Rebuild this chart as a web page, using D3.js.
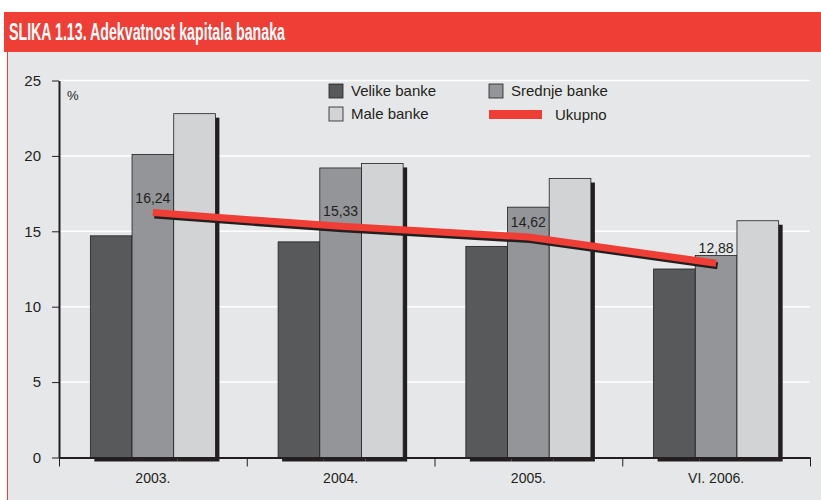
<!DOCTYPE html>
<html>
<head>
<meta charset="utf-8">
<script src="https://cdn.jsdelivr.net/npm/d3@7"></script>
<style>
  body { margin: 0; background: #fff; }
  svg { display: block; font-family: "Liberation Sans", Arial, sans-serif; }
</style>
</head>
<body>
<svg id="chart" width="821" height="500"></svg>
<script>
// Chart data
const categories = ["2003.", "2004.", "2005.", "VI. 2006."];
const seriesNames = ["Velike banke", "Srednje banke", "Male banke"];
const velike = [14.7, 14.3, 14.0, 12.5];
const srednje = [20.1, 19.2, 16.6, 13.4];
const male = [22.8, 19.5, 18.5, 15.7];
const ukupno = [16.24, 15.33, 14.62, 12.88];
const yTicks = [0, 5, 10, 15, 20, 25];

const colors = ["#58595b", "#939598", "#d1d3d4"];
const red = "#ef3e36";
const ink = "#231f20";

const svg = d3.select("#chart");

// Title bar and panel
svg.append("rect").attr("x", 4).attr("y", 12).attr("width", 817).attr("height", 40).attr("fill", red);
svg.append("rect").attr("x", 7).attr("y", 52).attr("width", 814).attr("height", 448).attr("fill", "#e6e7e8");
svg.append("line").attr("x1", 7.5).attr("x2", 7.5).attr("y1", 52).attr("y2", 500)
  .attr("stroke", red).attr("stroke-width", 1);
svg.append("text")
  .attr("x", 9).attr("y", 40)
  .attr("textLength", 276).attr("lengthAdjust", "spacingAndGlyphs")
  .style("font-family", "'Liberation Sans Narrow', 'Liberation Sans', Arial, sans-serif")
  .style("font-weight", "bold").style("font-size", "23px")
  .style("fill", "#fff")
  .text("SLIKA 1.13. Adekvatnost kapitala banaka");

// Scales
const left = 59, right = 810;
const x = d3.scaleBand().domain(categories).range([left, right])
  .paddingInner(0.334).paddingOuter(0.167);
const x1 = d3.scaleBand().domain(seriesNames).range([0, x.bandwidth()]);
const y = d3.scaleLinear().domain([0, 25]).range([457.5, 80.5]);

// Gridlines
svg.append("g")
  .selectAll("line")
  .data(yTicks.slice(1))
  .join("line")
  .attr("x1", left).attr("x2", right)
  .attr("y1", (d) => y(d)).attr("y2", (d) => y(d))
  .attr("stroke", "#fff").attr("stroke-width", 1.5);

// Bars
const values = [velike, srednje, male];
const barData = [];
categories.forEach((c, i) => {
  seriesNames.forEach((s, j) => {
    barData.push({ cat: c, series: s, value: values[j][i], color: colors[j] });
  });
});

// shadows first
svg.append("g")
  .selectAll("rect")
  .data(barData)
  .join("rect")
  .attr("x", (d) => x(d.cat) + x1(d.series) + 4)
  .attr("y", (d) => y(d.value) + 4)
  .attr("width", x1.bandwidth())
  .attr("height", (d) => y(0) - y(d.value))
  .attr("fill", ink);

svg.append("g")
  .selectAll("rect")
  .data(barData)
  .join("rect")
  .attr("x", (d) => x(d.cat) + x1(d.series))
  .attr("y", (d) => y(d.value))
  .attr("width", x1.bandwidth())
  .attr("height", (d) => y(0) - y(d.value))
  .attr("fill", (d) => d.color)
  .attr("stroke", ink).attr("stroke-width", 0.8);

// Axes
const yAxis = svg.append("g")
  .attr("transform", `translate(${left},0)`)
  .call(d3.axisLeft(y).tickValues(yTicks).tickSize(7).tickPadding(11).tickSizeOuter(0));
yAxis.select(".domain").attr("stroke", ink).attr("stroke-width", 2);
yAxis.selectAll(".tick line").attr("stroke", ink);
yAxis.selectAll(".tick text").style("font-size", "15px").style("fill", ink);

const xIdx = d3.scaleLinear().domain([0, categories.length]).range([left, right]);
const xTicks = svg.append("g")
  .attr("transform", `translate(0,${y(0)})`)
  .call(d3.axisBottom(xIdx).ticks(categories.length).tickSize(9).tickFormat("").tickSizeOuter(0));
xTicks.select(".domain").attr("stroke", ink).attr("stroke-width", 2);
xTicks.selectAll(".tick line").attr("stroke", ink);

const xAxis = svg.append("g")
  .attr("transform", `translate(0,${y(0)})`)
  .call(d3.axisBottom(x).tickSize(0).tickPadding(16));
xAxis.select(".domain").remove();
xAxis.selectAll(".tick text").style("font-size", "14px").style("fill", ink);

svg.append("text").attr("x", 67).attr("y", 100)
  .style("font-size", "13px").style("fill", ink).text("%");

// Ukupno line
const line = d3.line()
  .x((d, i) => x(categories[i]) + x.bandwidth() / 2)
  .y((d) => y(d));

svg.append("path").datum(ukupno)
  .attr("d", line)
  .attr("transform", "translate(1.5,2.5)")
  .attr("fill", "none").attr("stroke", ink).attr("stroke-width", 7);
svg.append("path").datum(ukupno)
  .attr("d", line)
  .attr("fill", "none").attr("stroke", red).attr("stroke-width", 7);

svg.append("g")
  .selectAll("text")
  .data(ukupno)
  .join("text")
  .attr("x", (d, i) => x(categories[i]) + x.bandwidth() / 2)
  .attr("y", (d) => y(d) - 10)
  .attr("text-anchor", "middle")
  .style("font-size", "14px").style("fill", ink)
  .text((d) => d3.format(".2f")(d).replace(".", ","));

// Legend
const legendItems = [
  { name: seriesNames[0], x: 329, y: 84, color: colors[0] },
  { name: seriesNames[1], x: 489, y: 84, color: colors[1] },
  { name: seriesNames[2], x: 329, y: 107, color: colors[2] }
];
const legend = svg.append("g");
legend.selectAll("rect")
  .data(legendItems)
  .join("rect")
  .attr("x", (d) => d.x).attr("y", (d) => d.y)
  .attr("width", 14).attr("height", 14)
  .attr("fill", (d) => d.color)
  .attr("stroke", ink).attr("stroke-width", 0.8);
legend.selectAll("text")
  .data(legendItems)
  .join("text")
  .attr("x", (d) => d.x + 22).attr("y", (d) => d.y + 12)
  .style("font-size", "15px").style("fill", ink)
  .text((d) => d.name);
legend.append("rect").attr("x", 489).attr("y", 110).attr("width", 53).attr("height", 9).attr("fill", red);
legend.append("text").attr("x", 555).attr("y", 120)
  .style("font-size", "15px").style("fill", ink).text("Ukupno");
</script>
</body>
</html>
